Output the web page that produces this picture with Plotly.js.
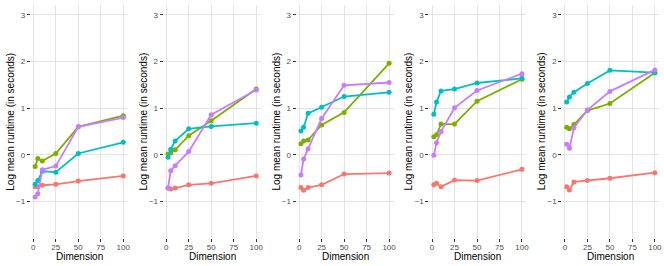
<!DOCTYPE html>
<html>
<head>
<meta charset="utf-8">
<script src="https://cdn.plot.ly/plotly-3.0.1.min.js"></script>
<style>html,body{margin:0;padding:0;background:#fff}#chart{width:664px;height:266px}</style>
</head>
<body>
<div id="chart"></div>
<script>
// Data
const dimensions = [2, 5, 10, 25, 50, 100];
const seriesColors = ["#F8766D", "#7CAE00", "#00BFC4", "#C77CFF"];
// values per panel, per series (red, green, cyan, purple)
const panel1Red    = [-0.68, -0.68, -0.65, -0.63, -0.56, -0.45];
const panel1Green  = [-0.25, -0.08, -0.13, 0.03, 0.60, 0.84];
const panel1Cyan   = [-0.63, -0.55, -0.35, -0.37, 0.03, 0.27];
const panel1Purple = [-0.90, -0.83, -0.32, -0.24, 0.60, 0.80];

const panel2Red    = [-0.71, -0.73, -0.71, -0.64, -0.61, -0.45];
const panel2Green  = [0.02, 0.04, 0.11, 0.41, 0.73, 1.41];
const panel2Cyan   = [-0.05, 0.12, 0.30, 0.56, 0.61, 0.68];
const panel2Purple = [-0.71, -0.34, -0.23, 0.07, 0.86, 1.39];

const panel3Red    = [-0.70, -0.76, -0.70, -0.64, -0.41, -0.39];
const panel3Green  = [0.24, 0.30, 0.32, 0.64, 0.91, 1.96];
const panel3Cyan   = [0.51, 0.59, 0.89, 1.02, 1.25, 1.34];
const panel3Purple = [-0.43, -0.09, 0.13, 0.78, 1.49, 1.55];

const panel4Red    = [-0.64, -0.61, -0.68, -0.54, -0.55, -0.31];
const panel4Green  = [0.39, 0.43, 0.66, 0.66, 1.15, 1.62];
const panel4Cyan   = [0.87, 1.13, 1.37, 1.41, 1.54, 1.64];
const panel4Purple = [-0.01, 0.26, 0.50, 1.01, 1.38, 1.74];

const panel5Red    = [-0.68, -0.75, -0.58, -0.55, -0.50, -0.38];
const panel5Green  = [0.59, 0.56, 0.65, 0.95, 1.10, 1.76];
const panel5Cyan   = [1.13, 1.24, 1.34, 1.53, 1.81, 1.76];
const panel5Purple = [0.23, 0.14, 0.58, 0.96, 1.36, 1.82];

const panels = [
  [panel1Red, panel1Green, panel1Cyan, panel1Purple],
  [panel2Red, panel2Green, panel2Cyan, panel2Purple],
  [panel3Red, panel3Green, panel3Cyan, panel3Purple],
  [panel4Red, panel4Green, panel4Cyan, panel4Purple],
  [panel5Red, panel5Green, panel5Cyan, panel5Purple]
];
const xTickVals = [0, 25, 50, 75, 100];
const yTickVals = [-1, 0, 1, 2, 3];
const xTitle = "Dimension";
const yTitle = "Log mean runtime (in seconds)";

// Layout geometry
const W = 664, H = 266;
const plotTop = 5, plotBottom = 238;
const firstLeft = 30.7, step = 132.9, panelW = 97;
const font = "Liberation Sans, Arial, sans-serif";

const traces = [];
const layout = {
  width: W, height: H,
  margin: {l: 0, r: 0, t: 0, b: 0},
  paper_bgcolor: "#fff", plot_bgcolor: "#fff",
  showlegend: false,
  font: {family: font, size: 8, color: "#4d4d4d"},
  annotations: []
};

panels.forEach((series, i) => {
  const sfx = i === 0 ? "" : String(i + 1);
  const left = firstLeft + step * i;
  series.forEach((vals, k) => {
    traces.push({
      type: "scatter", mode: "lines+markers",
      x: dimensions, y: vals,
      xaxis: "x" + sfx, yaxis: "y" + sfx,
      line: {color: seriesColors[k], width: 1.8},
      marker: {color: seriesColors[k], size: 5},
      hoverinfo: "skip"
    });
  });
  layout["xaxis" + sfx] = {
    domain: [left / W, (left + panelW) / W],
    anchor: "y" + sfx,
    range: [-2.9, 104.9],
    tickvals: xTickVals,
    ticks: "outside", ticklen: 3, tickwidth: 1, tickcolor: "#333",
    ticklabelstandoff: -2,
    showgrid: true, gridcolor: "#e3e3e3", gridwidth: 1,
    zeroline: false, showline: false,
    tickfont: {family: font, size: 8, color: "#4d4d4d"},
    fixedrange: true
  };
  layout["yaxis" + sfx] = {
    domain: [1 - plotBottom / H, 1 - plotTop / H],
    anchor: "x" + sfx,
    range: [-1.78, 3.21],
    tickvals: yTickVals,
    ticks: "outside", ticklen: 3, tickwidth: 1, tickcolor: "#333",
    showgrid: true, gridcolor: "#e3e3e3", gridwidth: 1,
    zeroline: false, showline: false,
    tickfont: {family: font, size: 8, color: "#4d4d4d"},
    fixedrange: true
  };
  layout.annotations.push({
    text: xTitle, xref: "paper", yref: "paper",
    x: (left + panelW / 2) / W, y: 1 - 256.5 / H,
    xanchor: "center", yanchor: "middle", showarrow: false,
    font: {family: font, size: 10, color: "#000"}
  });
  layout.annotations.push({
    text: yTitle, xref: "paper", yref: "paper",
    x: (left - 20.5) / W, y: 1 - ((plotTop + plotBottom) / 2) / H,
    xanchor: "center", yanchor: "middle", showarrow: false, textangle: -90,
    font: {family: font, size: 10, color: "#000"}
  });
});

Plotly.newPlot("chart", traces, layout, {staticPlot: true, displayModeBar: false});
</script>
</body>
</html>
